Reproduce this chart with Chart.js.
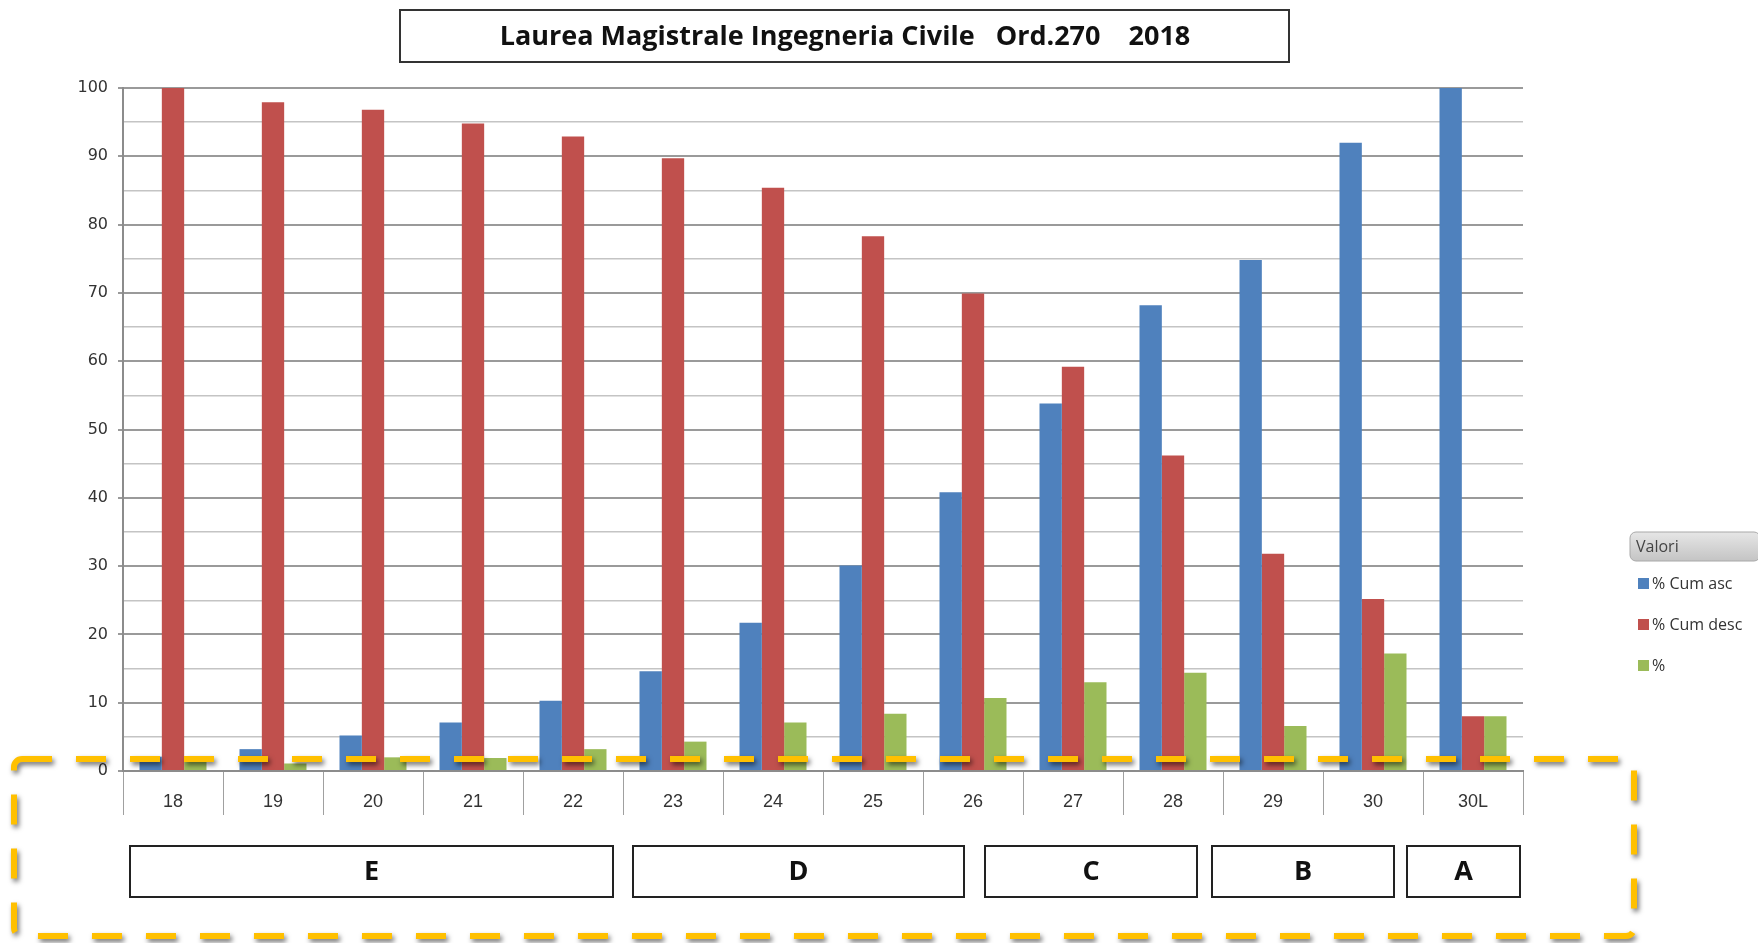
<!DOCTYPE html>
<html>
<head>
<meta charset="utf-8">
<script src="https://cdn.jsdelivr.net/npm/chart.js@4/dist/chart.umd.min.js"></script>
<style>
  html, body { margin: 0; padding: 0; background: #fff; }
  #wrap { width: 1758px; height: 943px; position: relative; }
</style>
</head>
<body>
<div id="wrap"><canvas id="votiChart" width="1758" height="943"></canvas></div>
<script>
// Voti (categorie asse x)
const categories = ['18', '19', '20', '21', '22', '23', '24', '25', '26', '27', '28', '29', '30', '30L'];

// Serie
const cumAsc  = [2.1, 3.2, 5.2, 7.1, 10.3, 14.6, 21.7, 30.1, 40.8, 53.8, 68.2, 74.8, 92.0, 100];
const cumDesc = [100, 97.9, 96.8, 94.8, 92.9, 89.7, 85.4, 78.3, 69.9, 59.2, 46.2, 31.8, 25.2, 8.0];
const pct     = [2.1, 1.1, 2.0, 1.9, 3.2, 4.3, 7.1, 8.4, 10.7, 13.0, 14.4, 6.6, 17.2, 8.0];

const seriesNames = ['% Cum asc', '% Cum desc', '%'];
const gradeLabels = ['E', 'D', 'C', 'B', 'A'];
const legendTitle = 'Valori';
const chartTitle = 'Laurea Magistrale Ingegneria Civile   Ord.270    2018';
const yMax = 100;

const colors = ['#4F81BD', '#C0504D', '#9BBB59'];

// Annotazioni disegnate sopra il grafico
const overlay = {
    id: 'overlay',
    afterDraw(chart) {
        const ctx = chart.ctx;
        ctx.save();

        // titolo
        ctx.lineWidth = 2;
        ctx.strokeStyle = '#333';
        ctx.strokeRect(400, 10, 889, 52);
        ctx.fillStyle = '#111';
        ctx.font = 'bold 27px "Open Sans", "Liberation Sans", sans-serif';
        ctx.textAlign = 'center';
        ctx.textBaseline = 'middle';
        ctx.fillText(chartTitle, 845, 37);

        // fasce di voto
        const boxes = [[130, 613], [633, 964], [985, 1197], [1212, 1394], [1407, 1520]];
        ctx.font = 'bold 27px "Open Sans", "Liberation Sans", sans-serif';
        boxes.forEach((b, i) => {
            ctx.strokeStyle = '#222';
            ctx.lineWidth = 2;
            ctx.strokeRect(b[0], 846, b[1] - b[0], 51);
            ctx.fillStyle = '#111';
            ctx.fillText(gradeLabels[i], (b[0] + b[1]) / 2, 872);
        });

        // legenda
        const lx = 1630, ly = 532;
        const grad = ctx.createLinearGradient(0, ly, 0, ly + 29);
        grad.addColorStop(0, '#e6e6e6');
        grad.addColorStop(1, '#c4c4c4');
        ctx.fillStyle = grad;
        ctx.strokeStyle = '#a8a8a8';
        ctx.lineWidth = 1;
        ctx.beginPath();
        ctx.roundRect(lx, ly, 130, 29, 6);
        ctx.fill();
        ctx.stroke();
        ctx.textAlign = 'left';
        ctx.fillStyle = '#444';
        ctx.font = '16px "Open Sans", "Liberation Sans", sans-serif';
        ctx.fillText(legendTitle, lx + 6, ly + 15);
        chart.data.datasets.forEach((ds, i) => {
            const y = 584 + i * 41;
            ctx.fillStyle = ds.backgroundColor;
            ctx.fillRect(1638, y - 6, 11, 11);
            ctx.fillStyle = '#333';
            ctx.fillText(ds.label, 1652, y);
        });

        // riquadro tratteggiato
        ctx.shadowColor = 'rgba(0,0,0,0.55)';
        ctx.shadowBlur = 5;
        ctx.shadowOffsetX = 2;
        ctx.shadowOffsetY = 3;
        ctx.strokeStyle = '#FFC000';
        ctx.lineWidth = 6;
        ctx.setLineDash([30, 24]);
        ctx.beginPath();
        ctx.roundRect(14, 759, 1620, 177, 8);
        ctx.stroke();

        ctx.restore();
    }
};

new Chart(document.getElementById('votiChart').getContext('2d'), {
    type: 'bar',
    data: {
        labels: categories,
        datasets: [
            { label: seriesNames[0], data: cumAsc, backgroundColor: colors[0] },
            { label: seriesNames[1], data: cumDesc, backgroundColor: colors[1] },
            { label: seriesNames[2], data: pct, backgroundColor: colors[2] }
        ]
    },
    options: {
        responsive: false,
        animation: false,
        categoryPercentage: 0.67,
        barPercentage: 1.0,
        layout: { padding: { top: 88, right: 235, bottom: 112, left: 0 } },
        plugins: { legend: { display: false }, tooltip: { enabled: false } },
        scales: {
            x: {
                grid: { drawOnChartArea: false, tickLength: 44, color: '#a0a0a0', offset: true },
                border: { color: '#8c8c8c', width: 2 },
                ticks: {
                    padding: -24,
                    color: '#333',
                    font: { family: '"Liberation Sans Narrow", "Liberation Sans", sans-serif', size: 18 }
                },
                afterFit: s => { s.height = 60; }
            },
            y: {
                min: 0,
                max: yMax,
                ticks: {
                    stepSize: 5,
                    padding: 10,
                    color: '#333',
                    font: { family: '"DejaVu Sans", sans-serif', size: 16 },
                    callback: v => (v % 10 === 0 ? v : '')
                },
                grid: {
                    tickLength: 5,
                    lineWidth: c => (c.tick && c.tick.value % 10 === 0 ? 2 : 1.5),
                    color: c => (c.tick && c.tick.value % 10 === 0 ? '#9a9a9a' : '#c4c4c4'),
                    tickColor: c => (c.tick && c.tick.value % 10 === 0 ? '#9a9a9a' : 'rgba(0,0,0,0)')
                },
                border: { color: '#8c8c8c', width: 2 },
                afterFit: s => { s.width = 123; }
            }
        }
    },
    plugins: [overlay]
});
</script>
</body>
</html>
